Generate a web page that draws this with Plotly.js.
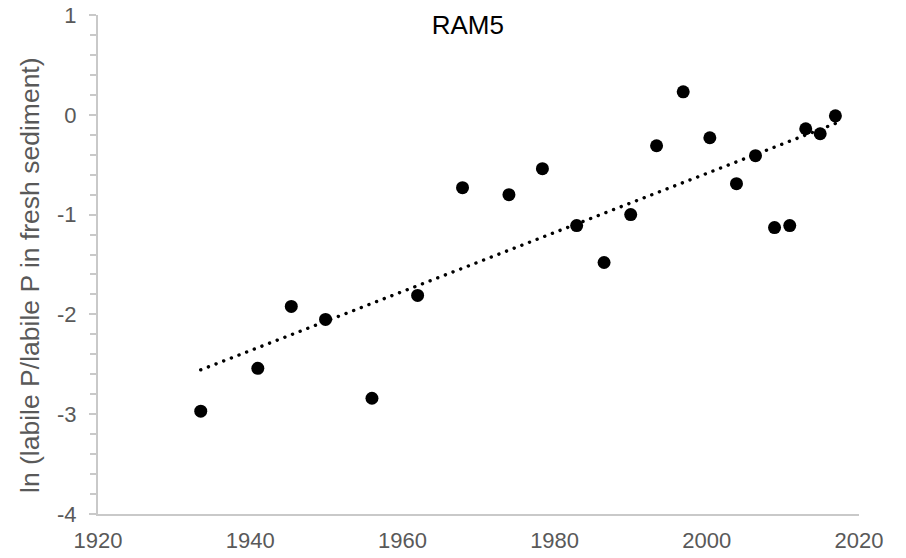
<!DOCTYPE html>
<html>
<head>
<meta charset="utf-8">
<script src="https://cdn.plot.ly/plotly-3.0.1.min.js"></script>
<style>
  html, body { margin: 0; padding: 0; background: #ffffff; }
  #chart { width: 906px; height: 558px; }
  /* round caps turn the zero-length dashes of the trend line into dots */
  #chart .scatterlayer .trace:first-child path.js-line { stroke-linecap: round; }
</style>
</head>
<body>
<div id="chart"></div>
<script>
// Core RAM5: sediment age (year) and ln(labile P / labile P in fresh sediment)
const years = [1933.5, 1941.0, 1945.4, 1949.9, 1956.0, 1962.0, 1967.9, 1974.0, 1978.4, 1982.9, 1986.5,
               1990.0, 1993.4, 1996.9, 2000.4, 2003.9, 2006.4, 2008.9, 2010.9, 2013.0, 2014.9, 2016.9];
const lnLabileP = [-2.97, -2.54, -1.92, -2.05, -2.84, -1.81, -0.73, -0.80, -0.54, -1.11, -1.48,
                   -1.00, -0.31, 0.23, -0.23, -0.69, -0.41, -1.13, -1.11, -0.14, -0.19, -0.01];
const xTicks = [1920, 1940, 1960, 1980, 2000, 2020];
const yTicks = [-4, -3, -2, -1, 0, 1];

// Ordinary least-squares linear trend through the points
function linearFit(xs, ys) {
  const n = xs.length;
  const mx = xs.reduce((a, b) => a + b, 0) / n;
  const my = ys.reduce((a, b) => a + b, 0) / n;
  let sxy = 0, sxx = 0;
  for (let i = 0; i < n; i++) {
    sxy += (xs[i] - mx) * (ys[i] - my);
    sxx += (xs[i] - mx) * (xs[i] - mx);
  }
  const slope = sxy / sxx;
  return { slope: slope, intercept: my - slope * mx };
}
const fit = linearFit(years, lnLabileP);
const xMin = Math.min(...years), xMax = Math.max(...years);
const trendX = [xMin, xMax];
const trendY = trendX.map(x => fit.intercept + fit.slope * x);

const axisGrey = '#c9c9c9';
const textGrey = '#595959';
const font = 'Liberation Sans, Arial, sans-serif';

const traces = [
  {
    x: trendX, y: trendY, type: 'scatter', mode: 'lines',
    line: { color: '#000000', width: 3.4, dash: '0.1px,8.1px' },
    hoverinfo: 'skip', showlegend: false
  },
  {
    x: years, y: lnLabileP, type: 'scatter', mode: 'markers',
    marker: { color: '#000000', size: 13 },
    showlegend: false
  }
];

const layout = {
  width: 906, height: 558,
  margin: { l: 98, r: 47, t: 15, b: 44 },
  paper_bgcolor: '#ffffff', plot_bgcolor: '#ffffff',
  font: { family: font, color: textGrey, size: 22 },
  title: {
    text: 'RAM5',
    font: { family: font, size: 26, color: '#000000' },
    x: 0.486, xref: 'paper', xanchor: 'center',
    y: 0.955, yref: 'container', yanchor: 'middle'
  },
  xaxis: {
    range: [1920, 2020],
    tickvals: xTicks, ticktext: xTicks.map(String),
    showgrid: false, zeroline: false,
    showline: true, linecolor: axisGrey, linewidth: 2,
    ticks: '', ticklabelstandoff: 6,
    tickfont: { family: font, size: 22, color: textGrey }
  },
  yaxis: {
    range: [-4, 1],
    tickvals: yTicks, ticktext: yTicks.map(String),
    showgrid: false, zeroline: false,
    showline: true, linecolor: axisGrey, linewidth: 2,
    ticks: 'outside', ticklen: 7, tickwidth: 2, tickcolor: axisGrey,
    ticklabelstandoff: 8,
    minor: { dtick: 0.2, ticks: 'outside', ticklen: 6, tickwidth: 2, tickcolor: axisGrey, showgrid: false },
    tickfont: { family: font, size: 22, color: textGrey }
  },
  annotations: [
    {
      text: 'ln (labile P/labile P in fresh sediment)',
      textangle: -90,
      xref: 'paper', yref: 'paper',
      x: -0.0894, y: 0.479,
      xanchor: 'center', yanchor: 'middle',
      showarrow: false,
      font: { family: font, size: 26.5, color: textGrey }
    }
  ]
};

Plotly.newPlot('chart', traces, layout, { staticPlot: true, displayModeBar: false });
</script>
</body>
</html>
